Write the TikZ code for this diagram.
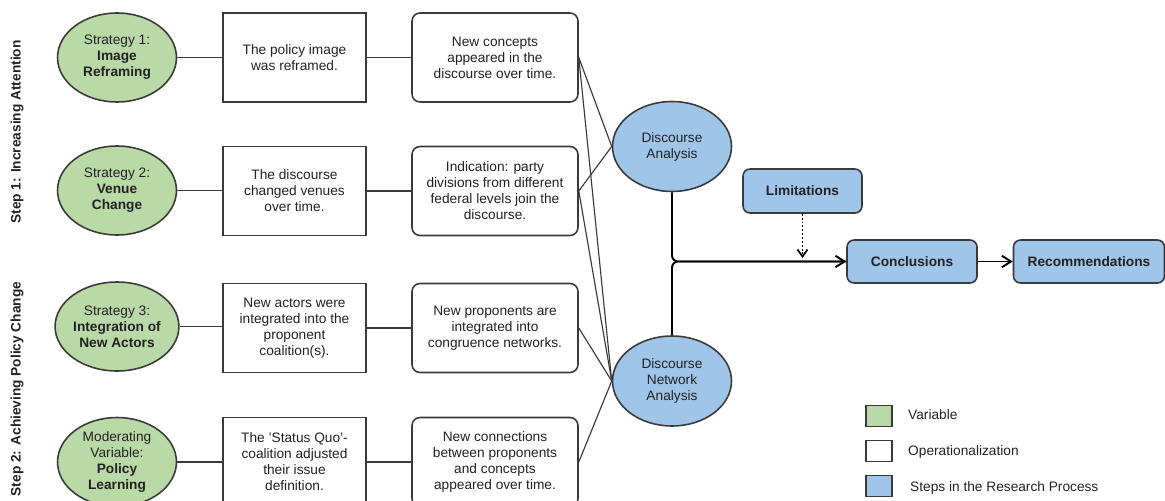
\documentclass[tikz,border=0pt]{standalone}
\usepackage{fontspec}
\setmainfont{Liberation Sans}
\usetikzlibrary{arrows.meta,shapes.geometric}

\definecolor{vargreen}{HTML}{B9D9A6}
\definecolor{stepblue}{HTML}{9FC5E8}
\definecolor{edgegray}{HTML}{3A3A3A}
\definecolor{txtgray}{HTML}{222222}

\begin{document}
\begin{tikzpicture}[x=0.02cm, y=-0.02cm,
  font=\fontsize{7.8}{9.1}\selectfont, text=txtgray,
  nodebase/.style={draw=edgegray, line width=0.9pt, align=center, inner sep=0pt},
  varnode/.style={nodebase, ellipse, fill=vargreen, minimum width=2.38cm, minimum height=1.78cm},
  methodnode/.style={nodebase, ellipse, fill=stepblue, minimum width=2.38cm, minimum height=1.8cm},
  operbox/.style={nodebase, rectangle, fill=white, minimum width=2.86cm, minimum height=1.78cm},
  evidencebox/.style={nodebase, rectangle, rounded corners=0.16cm, fill=white, minimum width=3.32cm, minimum height=1.78cm},
  stepbox/.style={nodebase, rectangle, rounded corners=0.14cm, fill=stepblue, minimum height=0.86cm, font=\fontsize{7.8}{9.1}\selectfont\bfseries},
  legendbox/.style={nodebase, rectangle, minimum width=0.52cm, minimum height=0.42cm},
  thinline/.style={draw=edgegray, line width=0.65pt},
  flowline/.style={draw=black, line width=1.1pt},
  flowtip/.style={-{Straight Barb[length=1.8mm, width=2.3mm, line width=1.1pt]}},
  steplabel/.style={rotate=90, font=\fontsize{7.8}{9.1}\selectfont\bfseries}
]
\useasboundingbox (0,0) rectangle (1165,500);
\clip (0,0) rectangle (1165,500);

% phase labels
\node[steplabel] (phase1) at (17,132) {Step 1: Increasing Attention};
\node[steplabel] (phase2) at (17,389) {Step 2: Achieving Policy Change};

% variables
\node[varnode] (v1) at (117,57.5) {Strategy 1:\\\textbf{Image}\\\textbf{Reframing}};
\node[varnode] (v2) at (117,190.5) {Strategy 2:\\\textbf{Venue}\\\textbf{Change}};
\node[varnode] (v3) at (117,326.5) {Strategy 3:\\\textbf{Integration of}\\\textbf{New Actors}};
\node[varnode] (v4) at (117,462) {Moderating\\Variable:\\\textbf{Policy}\\\textbf{Learning}};

% operationalizations
\node[operbox] (o1) at (294.5,57.5) {The policy image\\was reframed.};
\node[operbox] (o2) at (294.5,191) {The discourse\\changed venues\\over time.};
\node[operbox] (o3) at (294.5,328) {New actors were\\integrated into the\\proponent\\coalition(s).};
\node[operbox] (o4) at (294.5,462) {The 'Status Quo'-\\coalition adjusted\\their issue\\definition.};

% observable indications
\node[evidencebox] (i1) at (495,57.5) {New concepts\\appeared in the\\discourse over time.};
\node[evidencebox] (i2) at (495,191) {Indication: party\\divisions from different\\federal levels join the\\discourse.};
\node[evidencebox] (i3) at (495,328) {New proponents are\\integrated into\\congruence networks.};
\node[evidencebox] (i4) at (495,462) {New connections\\between proponents\\and concepts\\appeared over time.};

% methods
\node[methodnode] (da) at (672,146.5) {Discourse\\Analysis};
\node[methodnode] (dna) at (672,381) {Discourse\\Network\\Analysis};

% research steps
\node[stepbox, minimum width=2.38cm, minimum height=0.88cm] (lim) at (802.5,191) {Limitations};
\node[stepbox, minimum width=2.6cm] (conc) at (912,261.5) {Conclusions};
\node[stepbox, minimum width=3.02cm] (rec) at (1089,261.5) {Recommendations};
\coordinate (limend) at (802.5,258);

% variable -> operationalization -> indication
\foreach \k in {1,2,3,4}{
  \draw[thinline] (v\k.east) -- (o\k.west |- v\k.east);
  \draw[thinline] (o\k.east) -- (i\k.west |- o\k.east);
}

% indications -> methods
\draw[thinline] (i1.east) -- (da.west);
\draw[thinline] (i1.east) -- (dna.west);
\draw[thinline] (i2.east) -- (da.west);
\draw[thinline] (i2.east) -- (dna.west);
\draw[thinline] (i3.east) -- (dna.west);
\draw[thinline] (i4.east) -- (dna.west);

% methods merge into the conclusions
\draw[flowline, flowtip, rounded corners=0.12cm] (da.south) |- (conc.west);
\draw[flowline, rounded corners=0.12cm] (dna.north) |- (conc.west);
\draw[flowline, flowtip] (conc.east) -- (rec.west);
\draw[line width=1pt, dash pattern=on 1.1pt off 1.1pt, -{Straight Barb[length=1.4mm, width=2mm, line width=1pt]}] (lim.south) -- (limend);

% legend
\node[legendbox, fill=vargreen] (lg1) at (879,416) {};
\node[legendbox, fill=white] (lg2) at (879,451) {};
\node[legendbox, fill=stepblue] (lg3) at (879,486) {};
\node[anchor=west] (lt1) at (902,415) {Variable};
\node[anchor=west] (lt2) at (902,452) {Operationalization};
\node[anchor=west] (lt3) at (904,488) {Steps in the Research Process};
\end{tikzpicture}
\end{document}
